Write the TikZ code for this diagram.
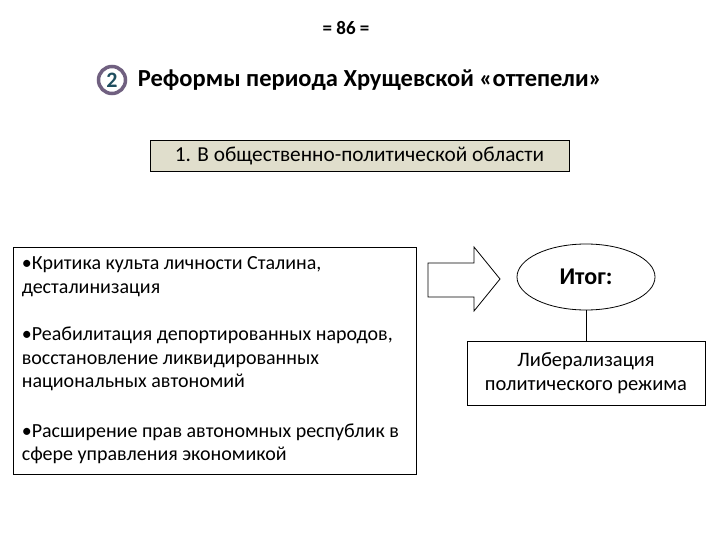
\documentclass[tikz,border=0pt]{standalone}
\usepackage{fontspec}
\setmainfont{Carlito}
\usetikzlibrary{positioning,shapes.geometric}

\definecolor{ringcol}{RGB}{112,96,128}
\definecolor{digitcol}{RGB}{31,78,95}
\definecolor{beige}{RGB}{224,222,204}

\tikzset{
    plainbox/.style={draw, line width=0.8pt, align=center, inner sep=0pt},
    bodytext/.style={font=\fontsize{20.5}{24}\selectfont},
    listtext/.style={font=\fontsize{20}{23.6}\selectfont},
}

\begin{document}
\begin{tikzpicture}[x=1pt, y=-1pt]
    \useasboundingbox (0,0) rectangle (720,540);

    \node [font=\fontsize{19}{22}\bfseries] (page) at (346,28) {= 86 =};
    \node [circle, draw=ringcol, line width=3.5pt, fill=white, minimum size=27pt, inner sep=0pt,
           text=digitcol, font=\fontsize{22}{24}\bfseries] (num) at (112,80) {2};
    \node [right=7pt of num, font=\fontsize{24.5}{28}\bfseries] (title)
        {Реформы периода Хрущевской «оттепели»};

    \node [plainbox, fill=beige, minimum width=419pt, minimum height=31pt,
           font=\fontsize{21.3}{24}\selectfont] (area)
        at (359.5,155.5) {1. В общественно-политической области};

    % left block with the reforms
    \node [plainbox, minimum width=403pt, minimum height=227pt] (reforms) at (214.5,360.5) {};
    \node [listtext, align=left, inner sep=0pt, anchor=west] (reformlist)
        at ([xshift=9pt]reforms.west)
        {•Критика культа личности Сталина,\\
         десталинизация\\[23.6pt]
         •Реабилитация депортированных народов,\\
         восстановление ликвидированных\\
         национальных автономий\\[26pt]
         •Расширение прав автономных республик в\\
         сфере управления экономикой};

    % block arrow
    \draw [line width=0.8pt, fill=white]
        (428,263) -- (474,263) -- (474,247) -- (500,279) -- (474,311) -- (474,297)
        -- (428,297) -- cycle;

    \node [ellipse, draw, line width=0.8pt, minimum width=138pt, minimum height=66pt,
           font=\fontsize{24}{28}\bfseries] (result) at (586,277) {Итог:};
    \node [plainbox, bodytext, minimum width=238pt, minimum height=64pt] (liberal)
        at (586,373) {Либерализация\\политического режима};

    \draw [line width=0.8pt] (result) -- (liberal);
\end{tikzpicture}
\end{document}
